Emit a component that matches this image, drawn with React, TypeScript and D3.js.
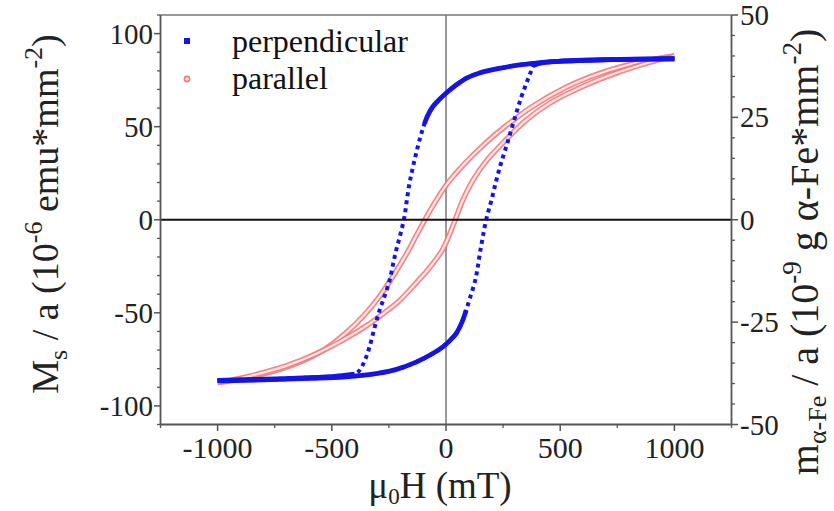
import React from "react";
import * as d3 from "d3";

// ---- data ----
// perpendicular: descending branch (from +1000 to -1000)
const perpDownH = [1000, 800, 600, 450, 380, 300, 234, 150, 88, 40, 0, -30, -58, -80, -94, -105, -116, -127, -138, -149, -160, -171, -182, -200, -218, -232, -247, -269, -291, -313, -335, -357, -379, -400, -500, -700, -1000];
const perpDownM = [86.5, 86.2, 85.6, 84.8, 84, 82.8, 81.3, 79, 76, 72, 68, 64.5, 60.7, 56, 51.7, 47.5, 42.8, 37.5, 32, 26, 19.5, 11, 1.5, -8, -16.4, -24, -32.5, -41, -48.7, -58, -68.4, -76, -81, -83, -84.3, -85.3, -86.3];
// perpendicular: ascending branch (from -1000 to +1000)
const perpUpH = [-1000, -800, -600, -450, -380, -300, -220, -131, -60, -15, 20, 45, 70, 88, 105, 125, 137, 147, 160, 176, 200, 220, 240, 263, 285, 307, 330, 351, 370, 385, 420, 500, 700, 1000];
const perpUpM = [-86.5, -86, -85.2, -84.5, -83.8, -82.5, -80.5, -76.5, -72, -68.4, -64.5, -61, -55, -48.7, -42, -34, -27, -19, -10, 0, 11, 21, 30, 39, 48, 57, 66, 73, 79, 83, 84.3, 85.2, 86, 86.5];
// parallel: descending branch
const parDownH = [1000, 900, 817, 672, 526, 380, 263, 176, 88, 40, 0, -45, -90, -130, -160, -225, -290, -360, -430, -530, -660, -820, -1000];
const parDownM = [88, 86, 83.8, 78.6, 71.2, 61, 50.5, 41.5, 31, 24.5, 18.5, 10, 0.5, -8.5, -15.5, -29, -41, -51.5, -60, -69.5, -77.5, -83.5, -87.5];
// parallel: ascending branch
const parUpH = [-1000, -861, -700, -568, -450, -349, -270, -204, -131, -70, -15, 20, 45, 70, 117, 176, 263, 351, 453, 598, 745, 891, 1000];
const parUpM = [-87.5, -84, -78.5, -72, -64.5, -57, -50, -43.5, -34, -25.5, -16, -6.5, 1.5, 9.5, 21, 31.5, 43, 53.5, 62.6, 71.6, 78.8, 84.5, 88];

const xTicksMajor = [-1000, -500, 0, 500, 1000];
const xTicksMinor = [-1250, -750, -250, 250, 750, 1250];
const yLeftMajor = [-100, -50, 0, 50, 100];
const yRightMajor = [-50, -25, 0, 25, 50];
const legendLabels = ["perpendicular", "parallel"];

const W = 834;
const H = 511;
const FONT = "'Liberation Serif', 'Times New Roman', serif";

export default function App() {
  const x = d3.scaleLinear().domain([-1250, 1250]).range([160.5, 731.5]);
  const yL = d3.scaleLinear().domain([-110, 110]).range([424.5, 15]);
  const yR = d3.scaleLinear().domain([-50, 50]).range([424.5, 15]);

  const toPts = (hs: number[], ms: number[]) => hs.map((h, i) => [h, ms[i]] as [number, number]);
  const line = d3
    .line<[number, number]>()
    .x((d) => x(d[0]))
    .y((d) => yL(d[1]))
    .curve(d3.curveCatmullRom.alpha(0.5));

  const perpDown = toPts(perpDownH, perpDownM);
  const perpUp = toPts(perpUpH, perpUpM);
  const parDown = toPts(parDownH, parDownM);
  const parUp = toPts(parUpH, parUpM);

  // flat (dense) portions drawn solid
  const flatDownA = perpDown.filter((d) => d[0] >= -100);
  const flatDownB = perpDown.filter((d) => d[0] <= -380);
  const flatUpA = perpUp.filter((d) => d[0] <= 88);
  const flatUpB = perpUp.filter((d) => d[0] >= 380);

  const leftMinor = d3.range(-110, 111, 10).filter((v) => v % 50 !== 0);
  const rightMinor = d3.range(-50, 51, 5).filter((v) => v % 25 !== 0);

  const axisColor = "#555";
  const blue = "#1414ea";
  const red = "#f07a7a";
  const fmt = (t: number) => (t < 0 ? "-" + Math.abs(t) : String(t));

  return (
    <svg width={W} height={H} style={{ position: "absolute", left: 0, top: 0, background: "#fff" }} fontFamily={FONT}>
      <rect x={0} y={0} width={W} height={H} fill="#fff" />
      {/* zero vertical line */}
      <line x1={x(0)} x2={x(0)} y1={yL(110)} y2={yL(-110)} stroke="#555" strokeWidth={1.2} />

      {/* parallel loop */}
      {[parDown, parUp].map((d, i) => (
        <g key={"par" + i}>
          <path d={line(d) || ""} fill="none" stroke={red} strokeWidth={5.5} strokeOpacity={0.9} />
          <path d={line(d) || ""} fill="none" stroke="#fde4e4" strokeWidth={2.2} />
        </g>
      ))}

      {/* perpendicular loop */}
      {[perpDown, perpUp].map((d, i) => (
        <path key={"pd" + i} d={line(d) || ""} fill="none" stroke={blue} strokeWidth={4} strokeDasharray="4 4" />
      ))}
      {[flatDownA, flatDownB, flatUpA, flatUpB].map((d, i) => (
        <path key={"pf" + i} d={line(d) || ""} fill="none" stroke={blue} strokeWidth={4.8} />
      ))}

      <line x1={x(-1250)} x2={x(1250)} y1={yL(0)} y2={yL(0)} stroke="#111" strokeWidth={2} />

      {/* frame */}
      <line x1={x(-1250)} x2={x(1250)} y1={15} y2={15} stroke="#777" strokeWidth={1.5} />
      <line x1={x(-1250)} x2={x(1250)} y1={424.5} y2={424.5} stroke={axisColor} strokeWidth={1.8} />
      <line x1={x(-1250)} x2={x(-1250)} y1={15} y2={424.5} stroke={axisColor} strokeWidth={1.8} />
      <line x1={x(1250)} x2={x(1250)} y1={15} y2={424.5} stroke={axisColor} strokeWidth={1.8} />

      {/* x ticks */}
      {xTicksMajor.map((t) => (
        <g key={"xt" + t}>
          <line x1={x(t)} x2={x(t)} y1={424.5} y2={431} stroke={axisColor} strokeWidth={1.5} />
          <text x={x(t)} y={458} textAnchor="middle" fontSize={30} fill="#222">
            {fmt(t)}
          </text>
        </g>
      ))}
      {xTicksMinor.map((t) => (
        <line key={"xm" + t} x1={x(t)} x2={x(t)} y1={424.5} y2={428} stroke={axisColor} strokeWidth={1.3} />
      ))}

      {/* left ticks */}
      {yLeftMajor.map((t) => (
        <g key={"yl" + t}>
          <line x1={154} x2={160.5} y1={yL(t)} y2={yL(t)} stroke={axisColor} strokeWidth={1.5} />
          <text x={153} y={yL(t) + 10} textAnchor="end" fontSize={29} fill="#222">
            {fmt(t)}
          </text>
        </g>
      ))}
      {leftMinor.map((t) => (
        <line key={"ylm" + t} x1={157} x2={160.5} y1={yL(t)} y2={yL(t)} stroke={axisColor} strokeWidth={1.3} />
      ))}

      {/* right ticks */}
      {yRightMajor.map((t) => (
        <g key={"yr" + t}>
          <line x1={731.5} x2={738} y1={yR(t)} y2={yR(t)} stroke={axisColor} strokeWidth={1.5} />
          <text x={740} y={yR(t) + 10} textAnchor="start" fontSize={29} fill="#222">
            {fmt(t)}
          </text>
        </g>
      ))}
      {rightMinor.map((t) => (
        <line key={"yrm" + t} x1={731.5} x2={735} y1={yR(t)} y2={yR(t)} stroke={axisColor} strokeWidth={1.3} />
      ))}

      {/* legend */}
      <rect x={184} y={38} width={6} height={6} fill={blue} />
      <circle cx={187} cy={79} r={2.6} fill="#fde4e4" stroke={red} strokeWidth={1.6} />
      <text x={232} y={52} fontSize={32} fill="#111">{legendLabels[0]}</text>
      <text x={232} y={89} fontSize={32} fill="#111">{legendLabels[1]}</text>

      {/* x title */}
      <text x={440} y={498} textAnchor="middle" fontSize={37} fill="#222">
        μ<tspan fontSize={23} dy={6}>0</tspan>
        <tspan dy={-6}>H (mT)</tspan>
      </text>

      {/* left title */}
      <text transform="translate(58,214) rotate(-90)" textAnchor="middle" fontSize={38} fill="#222">
        M<tspan fontSize={26} dy={9}>s</tspan>
        <tspan dy={-9}> / a (10</tspan>
        <tspan fontSize={26} dy={-16}>-6</tspan>
        <tspan dy={16}> emu*mm</tspan>
        <tspan fontSize={26} dy={-16}>-2</tspan>
        <tspan dy={16}>)</tspan>
      </text>

      {/* right title */}
      <text transform="translate(818,252) rotate(-90)" textAnchor="middle" fontSize={40} fill="#222">
        m<tspan fontSize={26} dy={8}>α-Fe</tspan>
        <tspan dy={-8}> / a (10</tspan>
        <tspan fontSize={27} dy={-17}>-9</tspan>
        <tspan dy={17}> g α-Fe*mm</tspan>
        <tspan fontSize={27} dy={-17}>-2</tspan>
        <tspan dy={17}>)</tspan>
      </text>
    </svg>
  );
}
